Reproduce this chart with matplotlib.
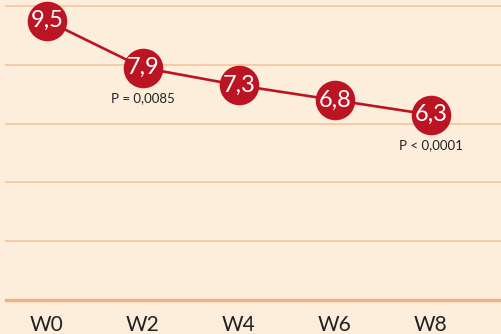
import matplotlib
matplotlib.use("Agg")
import matplotlib.pyplot as plt

weeks = ["W0", "W2", "W4", "W6", "W8"]
values = [9.5, 7.9, 7.3, 6.8, 6.3]
value_labels = ["9,5", "7,9", "7,3", "6,8", "6,3"]
p_labels = {1: "P = 0,0085", 4: "P < 0,0001"}
grid_levels = [0, 2, 4, 6, 8, 10]

BG = "#fdeedb"
GRID = "#f7c8a0"
BASE = "#f3b083"
RED = "#bb1423"

fig = plt.figure(figsize=(5.02, 3.34), dpi=100, facecolor=BG)
ax = fig.add_axes([6 / 502, 34 / 334, 496 / 502, 294 / 334])
ax.set_facecolor(BG)
ax.set_ylim(0, 10)
ax.set_xlim(-0.427, 4.74)

for lvl in grid_levels:
    ax.axhline(lvl, color=BASE if lvl == 0 else GRID,
               lw=2.4 if lvl == 0 else 1.3, zorder=1, clip_on=False)

x = list(range(len(weeks)))
ax.plot(x, values, color=RED, lw=1.9, zorder=2, clip_on=False)
ax.scatter(x, values, s=28.5 ** 2, color=RED, zorder=3,
           clip_on=False, linewidths=0)

for xi, v, lab in zip(x, values, value_labels):
    ax.text(xi, v, lab, ha="center", va="center", color="white",
            fontsize=17, family="Lato", fontweight="normal", zorder=4)

for i, txt in p_labels.items():
    ax.annotate(txt, (i, values[i]), xytext=(0, -22), textcoords="offset points",
                ha="center", va="center", fontsize=9.5, family="Lato",
                color="#222222", zorder=4)

ax.set_xticks(x)
ax.set_xticklabels(weeks, family="Lato", fontsize=15, color="#222222")
ax.tick_params(axis="x", length=0, pad=11)
ax.set_yticks([])
for s in ax.spines.values():
    s.set_visible(False)

fig.savefig("out.png", dpi=100, facecolor=BG)
